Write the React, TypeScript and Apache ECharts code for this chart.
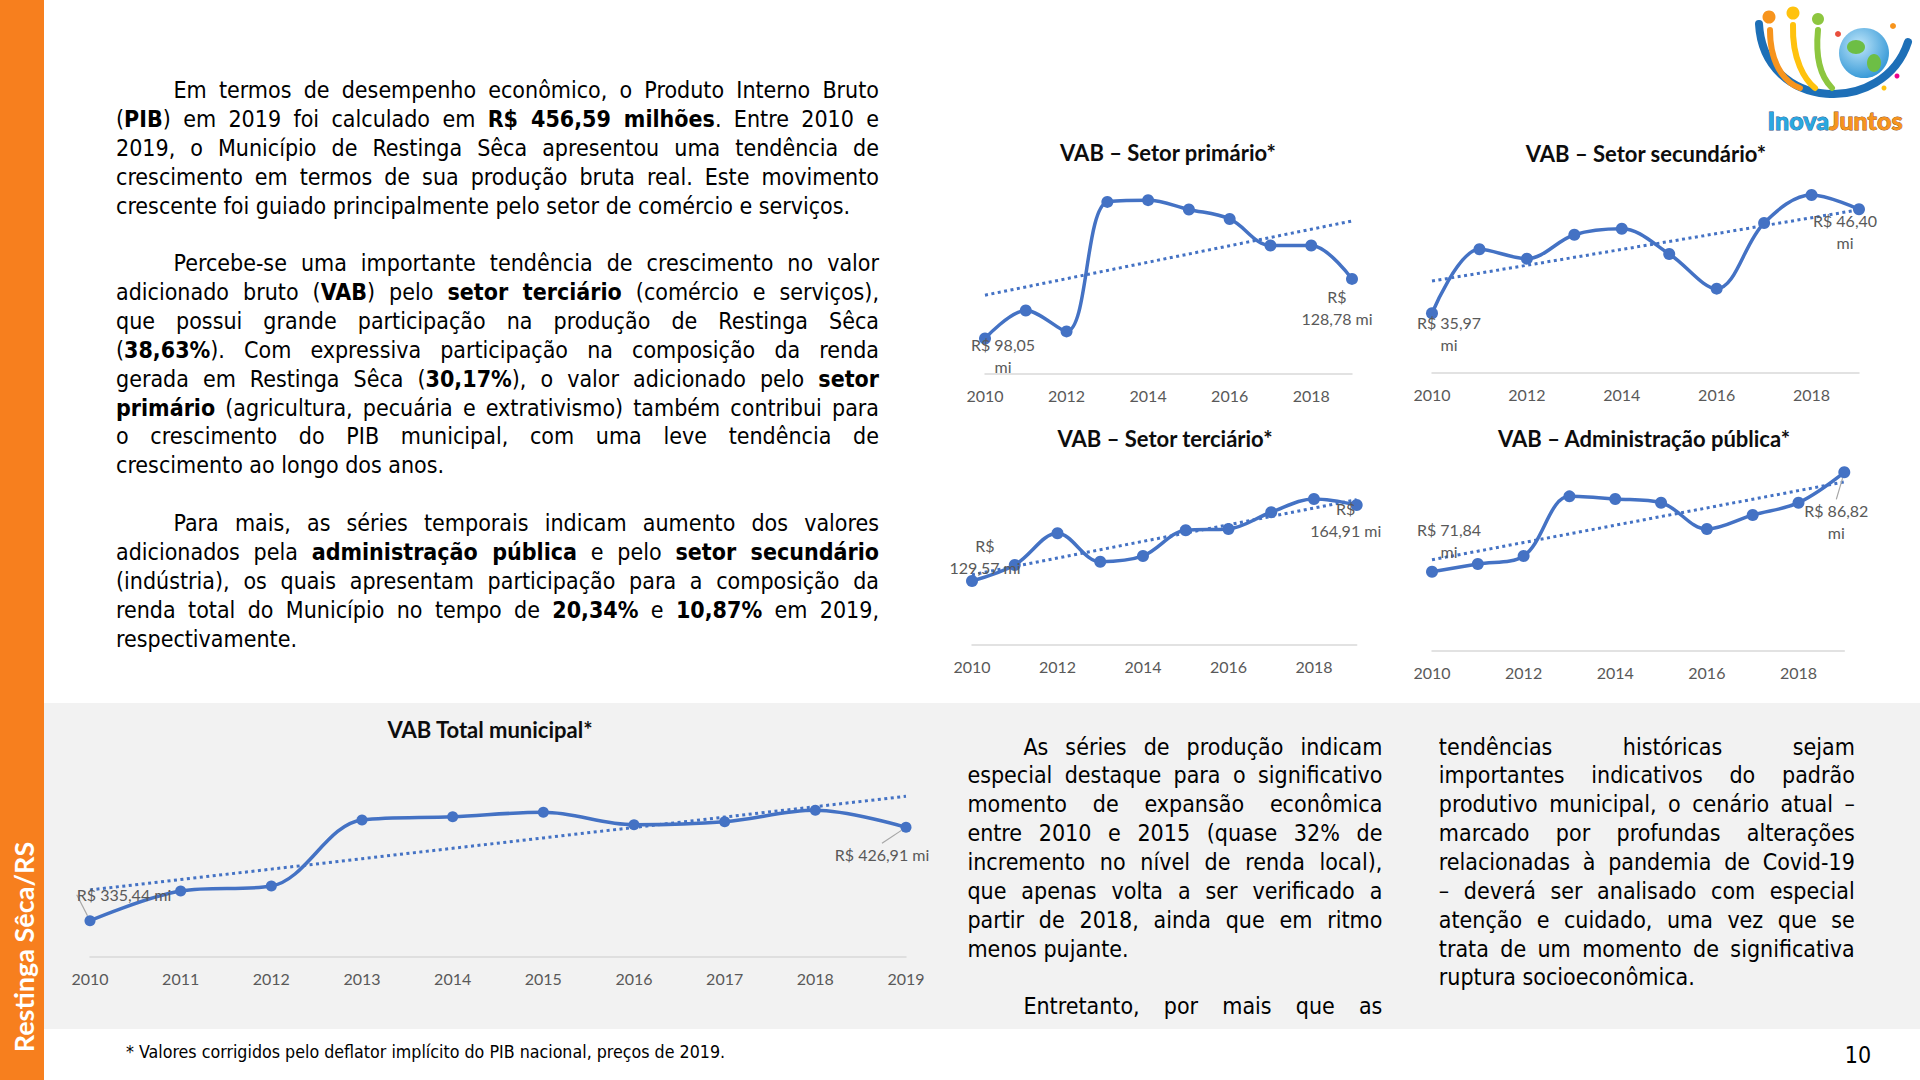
import React, { useEffect, useRef } from "react";
import * as echarts from "echarts";

// ---------- DATA ----------
const years = ["2010", "2011", "2012", "2013", "2014", "2015", "2016", "2017", "2018", "2019"];
const primario = [98.05, 112.5, 101.7, 168.5, 169.4, 164.6, 159.7, 146.0, 146.0, 128.78];
const secundario = [35.97, 42.39, 41.45, 43.85, 44.45, 41.92, 38.44, 45.03, 47.83, 46.4];
const terciario = [129.57, 137.01, 151.75, 138.54, 141.2, 153.15, 153.75, 161.52, 167.7, 164.91];
const administracao = [71.84, 73.0, 74.21, 83.2, 82.8, 82.24, 78.27, 80.38, 82.24, 86.82];
const totalMunicipal = [335.44, 364.5, 369.4, 434.1, 437.3, 441.6, 429.4, 432.4, 443.6, 426.91];

const titles = [
  "VAB – Setor primário*",
  "VAB – Setor secundário*",
  "VAB – Setor terciário*",
  "VAB – Administração pública*",
  "VAB Total municipal*",
];

// ---------- TEXT ----------
const mainLines: (string | null)[] = [
  ">Em termos de desempenho econômico, o Produto Interno Bruto",
  "(**PIB**) em 2019 foi calculado em **R$ 456,59 milhões**. Entre 2010 e",
  "2019, o Município de Restinga Sêca apresentou uma tendência de",
  "crescimento em termos de sua produção bruta real. Este movimento",
  "crescente foi guiado principalmente pelo setor de comércio e serviços.|",
  null,
  ">Percebe-se uma importante tendência de crescimento no valor",
  "adicionado bruto (**VAB**) pelo **setor terciário** (comércio e serviços),",
  "que possui grande participação na produção de Restinga Sêca",
  "(**38,63%**). Com expressiva participação na composição da renda",
  "gerada em Restinga Sêca (**30,17%**), o valor adicionado pelo **setor**",
  "**primário** (agricultura, pecuária e extrativismo) também contribui para",
  "o crescimento do PIB municipal, com uma leve tendência de",
  "crescimento ao longo dos anos.|",
  null,
  ">Para mais, as séries temporais indicam aumento dos valores",
  "adicionados pela **administração pública** e pelo **setor secundário**",
  "(indústria), os quais apresentam participação para a composição da",
  "renda total do Município no tempo de **20,34%** e **10,87%** em 2019,",
  "respectivamente.|",
];

const col1Lines: (string | null)[] = [
  ">As séries de produção indicam",
  "especial destaque para o significativo",
  "momento de expansão econômica",
  "entre 2010 e 2015 (quase 32% de",
  "incremento no nível de renda local),",
  "que apenas volta a ser verificado a",
  "partir de 2018, ainda que em ritmo",
  "menos pujante.|",
  null,
  ">Entretanto, por mais que as",
];

const col2Lines: (string | null)[] = [
  "tendências históricas sejam",
  "importantes indicativos do padrão",
  "produtivo municipal, o cenário atual –",
  "marcado por profundas alterações",
  "relacionadas à pandemia de Covid-19",
  "– deverá ser analisado com especial",
  "atenção e cuidado, uma vez que se",
  "trata de um momento de significativa",
  "ruptura socioeconômica.|",
];

const footnote = "* Valores corrigidos pelo deflator implícito do PIB nacional, preços de 2019.";
const pageNumber = "10";
const sidebarText = "Restinga Sêca/RS";

// ---------- LAYOUT ----------
type LabelCfg = { style: "a" | "b" | "c"; dx: number; dy: number; guide?: boolean };
type ChartCfg = {
  data: number[];
  title: string;
  tx: number;
  ty: number;
  left: number;
  width: number;
  top: number;
  bottom: number;
  min: number;
  max: number;
  every2: boolean;
  labels: [LabelCfg, LabelCfg];
};

const chartCfgs: ChartCfg[] = [
  { data: primario, title: titles[0], tx: 1168, ty: 152, left: 985, width: 367, top: 179.6, bottom: 373.5, min: 80, max: 180, every2: true,
    labels: [{ style: "a", dx: 18, dy: 17 }, { style: "b", dx: -15, dy: 29 }] },
  { data: secundario, title: titles[1], tx: 1646, ty: 153, left: 1432, width: 427, top: 173.4, bottom: 372.8, min: 30, max: 50, every2: true,
    labels: [{ style: "a", dx: 17, dy: 20 }, { style: "a", dx: -14, dy: 22 }] },
  { data: terciario, title: titles[2], tx: 1165, ty: 438, left: 972, width: 384.7, top: 472.5, bottom: 644.6, min: 100, max: 180, every2: true,
    labels: [{ style: "b", dx: 13, dy: -24 }, { style: "b", dx: -11, dy: 15 }] },
  { data: administracao, title: titles[3], tx: 1644, ty: 438, left: 1432, width: 412.3, top: 451.2, bottom: 650.3, min: 60, max: 90, every2: true,
    labels: [{ style: "a", dx: 17, dy: -31 }, { style: "a", dx: -8, dy: 49, guide: true }] },
  { data: totalMunicipal, title: titles[4], tx: 490, ty: 729, left: 90, width: 816, top: 752.7, bottom: 956.9, min: 300, max: 500, every2: false,
    labels: [{ style: "c", dx: 34, dy: -26, guide: true }, { style: "c", dx: -24, dy: 27, guide: true }] },
];

const BLUE = "#4472C4";
const GRAY_TXT = "#595959";
const CH_FONT = "Lato, 'Open Sans', sans-serif";
const TXT_FONT = "'DejaVu Sans Condensed', 'DejaVu Sans', sans-serif";

function linearTrend(values: number[]): number[] {
  const n = values.length;
  const mx = (n - 1) / 2;
  const my = values.reduce((s, v) => s + v, 0) / n;
  let sxy = 0;
  let sxx = 0;
  values.forEach((v, i) => {
    sxy += (i - mx) * (v - my);
    sxx += (i - mx) * (i - mx);
  });
  const b = sxy / sxx;
  return values.map((_, i) => +(my + b * (i - mx)).toFixed(3));
}

const fmt = (v: number) => v.toFixed(2).replace(".", ",");
function labelText(v: number, style: "a" | "b" | "c") {
  if (style === "a") return `R$ ${fmt(v)}\nmi`;
  if (style === "b") return `R$\n${fmt(v)} mi`;
  return `R$ ${fmt(v)} mi`;
}

function buildOption() {
  const grid: any[] = [];
  const xAxis: any[] = [];
  const yAxis: any[] = [];
  const series: any[] = [];
  const graphic: any[] = [];

  // background band and sidebar
  graphic.push({ type: "rect", z: -10, silent: true, shape: { x: 44, y: 703, width: 1876, height: 326 }, style: { fill: "#F2F2F2" } });
  graphic.push({ type: "rect", z: -9, silent: true, shape: { x: 0, y: 0, width: 44, height: 1080 }, style: { fill: "#F77F1E" } });
  graphic.push({
    type: "text", x: 23, y: 947, rotation: Math.PI / 2, silent: true,
    style: { text: sidebarText, fill: "#FFFFFF", font: `bold 27px ${CH_FONT}`, textAlign: "center", textVerticalAlign: "middle" },
  });

  chartCfgs.forEach((c, i) => {
    grid.push({ left: c.left, top: c.top, width: c.width, height: c.bottom - c.top, containLabel: false });
    xAxis.push({
      gridIndex: i, type: "category", data: years, boundaryGap: false,
      axisLine: { show: true, lineStyle: { color: "#D9D9D9", width: 1.5 } },
      axisTick: { show: false },
      splitLine: { show: false },
      axisLabel: { interval: c.every2 ? 1 : 0, color: GRAY_TXT, fontSize: 16, fontFamily: CH_FONT, margin: 14 },
    });
    yAxis.push({ gridIndex: i, type: "value", min: c.min, max: c.max, show: false });

    const n = c.data.length;
    const isTotal = i === 4;
    const data = c.data.map((v, j) => {
      if (j === 0 || j === n - 1) {
        const lc = j === 0 ? c.labels[0] : c.labels[1];
        return {
          value: v,
          label: { show: true, formatter: labelText(v, lc.style) },
          labelLine: { show: !!lc.guide },
        };
      }
      return v;
    });

    series.push({
      type: "line", xAxisIndex: i, yAxisIndex: i, z: 3,
      data: linearTrend(c.data), symbol: "none", smooth: false, silent: true,
      lineStyle: { color: BLUE, width: 3, type: [3, 3.5] },
    });
    series.push({
      type: "line", xAxisIndex: i, yAxisIndex: i, z: 4,
      data, smooth: 0.35, symbol: "circle", symbolSize: isTotal ? 11 : 12,
      itemStyle: { color: BLUE },
      lineStyle: { color: BLUE, width: 3.5 },
      label: {
        show: false, position: "inside", color: GRAY_TXT, fontSize: 16, fontFamily: CH_FONT,
        lineHeight: 22, align: "center", verticalAlign: "middle", textBorderWidth: 0,
      },
      labelLine: { show: false, lineStyle: { color: "#A6A6A6", width: 1.2 } },
      labelLayout: (params: any) => {
        const lc = params.dataIndex === 0 ? c.labels[0] : c.labels[1];
        return { dx: lc.dx, dy: lc.dy };
      },
    });

    graphic.push({
      type: "text", x: c.tx, y: c.ty, silent: true,
      style: { text: c.title, fill: "#0D0D0D", font: `bold 22px ${CH_FONT}`, textAlign: "center", textVerticalAlign: "middle" },
    });
  });

  // logo (approximation)
  graphic.push({
    type: "bezierCurve", silent: true,
    shape: { x1: 1759, y1: 24, cpx1: 1764, cpy1: 112, cpx2: 1884, cpy2: 116, x2: 1908, y2: 42 },
    style: { stroke: "#1D6FB7", lineWidth: 8, fill: null, lineCap: "round" },
  });
  graphic.push({
    type: "bezierCurve", silent: true,
    shape: { x1: 1770, y1: 30, cpx1: 1770, cpy1: 70, cpx2: 1790, cpy2: 85, x2: 1800, y2: 88 },
    style: { stroke: "#F7941D", lineWidth: 6, fill: null, lineCap: "round" },
  });
  graphic.push({
    type: "bezierCurve", silent: true,
    shape: { x1: 1793, y1: 25, cpx1: 1792, cpy1: 60, cpx2: 1805, cpy2: 80, x2: 1815, y2: 88 },
    style: { stroke: "#FFC20E", lineWidth: 6, fill: null, lineCap: "round" },
  });
  graphic.push({
    type: "bezierCurve", silent: true,
    shape: { x1: 1818, y1: 30, cpx1: 1815, cpy1: 60, cpx2: 1822, cpy2: 78, x2: 1832, y2: 88 },
    style: { stroke: "#8DC63F", lineWidth: 6, fill: null, lineCap: "round" },
  });
  graphic.push({ type: "circle", silent: true, shape: { cx: 1769, cy: 17, r: 6.5 }, style: { fill: "#F7941D" } });
  graphic.push({ type: "circle", silent: true, shape: { cx: 1793, cy: 13, r: 6.5 }, style: { fill: "#FFC20E" } });
  graphic.push({ type: "circle", silent: true, shape: { cx: 1818, cy: 19, r: 6 }, style: { fill: "#8DC63F" } });
  graphic.push({
    type: "circle", silent: true, shape: { cx: 1864, cy: 53, r: 25 },
    style: {
      fill: new echarts.graphic.RadialGradient(0.4, 0.35, 0.8, [
        { offset: 0, color: "#BFE6FA" },
        { offset: 1, color: "#1C8AD0" },
      ]),
    },
  });
  graphic.push({ type: "ellipse", silent: true, shape: { cx: 1856, cy: 47, rx: 9, ry: 7 }, style: { fill: "#6DBE45" } });
  graphic.push({ type: "ellipse", silent: true, shape: { cx: 1874, cy: 63, rx: 7, ry: 9 }, style: { fill: "#6DBE45" } });
  graphic.push({ type: "circle", silent: true, shape: { cx: 1838, cy: 34, r: 3 }, style: { fill: "#E94E3C" } });
  graphic.push({ type: "circle", silent: true, shape: { cx: 1893, cy: 26, r: 3 }, style: { fill: "#F7941D" } });
  graphic.push({ type: "circle", silent: true, shape: { cx: 1897, cy: 76, r: 2.5 }, style: { fill: "#EC008C" } });
  graphic.push({ type: "circle", silent: true, shape: { cx: 1884, cy: 88, r: 2.5 }, style: { fill: "#FFC20E" } });
  graphic.push({
    type: "text", x: 1829, y: 120, silent: true,
    style: { text: "Inova", fill: "#29A8E0", font: `900 25px ${CH_FONT}`, textAlign: "right", textVerticalAlign: "middle", stroke: "#1D4E89", lineWidth: 0.8 },
  });
  graphic.push({
    type: "text", x: 1829, y: 120, silent: true,
    style: { text: "Juntos", fill: "#F7941D", font: `900 25px ${CH_FONT}`, textAlign: "left", textVerticalAlign: "middle", stroke: "#8A4A0A", lineWidth: 0.8 },
  });

  return { animation: false, backgroundColor: "transparent", grid, xAxis, yAxis, series, graphic };
}

function renderRich(s: string) {
  const parts = s.split("**");
  return parts.map((p, k) => (k % 2 === 1 ? <b key={k}>{p}</b> : <span key={k}>{p}</span>));
}

function TextBlock({ lines, x, w, y0, lh, indent, size }: { lines: (string | null)[]; x: number; w: number; y0: number; lh: number; indent: number; size: number }) {
  return (
    <>
      {lines.map((ln, i) => {
        if (ln === null) return null;
        let t = ln;
        let ind = 0;
        let last = false;
        if (t.startsWith(">")) {
          ind = indent;
          t = t.slice(1);
        }
        if (t.endsWith("|")) {
          last = true;
          t = t.slice(0, -1);
        }
        const yc = y0 + i * lh;
        return (
          <div
            key={i}
            style={{
              position: "absolute",
              left: x,
              top: yc - lh / 2,
              width: w,
              height: lh,
              lineHeight: `${lh}px`,
              fontSize: size,
              whiteSpace: "nowrap",
              textAlign: last ? "left" : "justify",
              textAlignLast: last ? "left" : "justify",
              textIndent: ind,
            } as React.CSSProperties}
          >
            {renderRich(t)}
          </div>
        );
      })}
    </>
  );
}

export default function App() {
  const ref = useRef<HTMLDivElement>(null);
  useEffect(() => {
    if (!ref.current) return;
    const chart = echarts.init(ref.current, undefined, { renderer: "svg" });
    chart.setOption(buildOption() as any);
    return () => chart.dispose();
  }, []);

  const LH = 28.86;
  return (
    <div style={{ position: "fixed", left: 0, top: 0, width: 1920, height: 1080, overflow: "hidden", background: "#FFFFFF" }}>
      <div ref={ref} style={{ position: "absolute", left: 0, top: 0, width: 1920, height: 1080 }} />
      <div
        style={{
          position: "absolute", left: 0, top: 0, width: 1920, height: 1080, pointerEvents: "none",
          fontFamily: TXT_FONT, fontStretch: "condensed", color: "#000000",
        } as React.CSSProperties}
      >
        <TextBlock lines={mainLines} x={116} w={763} y0={90.6} lh={LH} indent={57.5} size={23} />
        <TextBlock lines={col1Lines} x={967.4} w={415} y0={747} lh={LH} indent={56} size={23} />
        <TextBlock lines={col2Lines} x={1438.8} w={416} y0={747} lh={LH} indent={56} size={23} />
        <div style={{ position: "absolute", left: 126, top: 1052 - 12, height: 24, lineHeight: "24px", fontSize: 17.7, whiteSpace: "nowrap" }}>{footnote}</div>
        <div style={{ position: "absolute", left: 1830, width: 56, textAlign: "center", top: 1055 - 14, height: 28, lineHeight: "28px", fontSize: 23 }}>{pageNumber}</div>
      </div>
    </div>
  );
}
